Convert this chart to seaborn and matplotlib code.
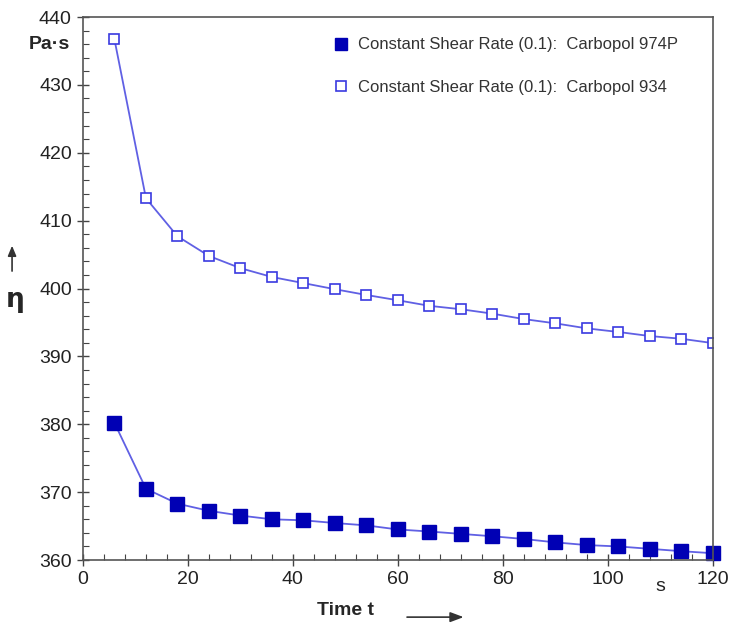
import pandas as pd
import matplotlib
matplotlib.use("Agg")
import matplotlib.pyplot as plt
import seaborn as sns
from matplotlib.lines import Line2D
from matplotlib.ticker import MultipleLocator

# --- data ---
time_s = [6, 12, 18, 24, 30, 36, 42, 48, 54, 60,
          66, 72, 78, 84, 90, 96, 102, 108, 114, 120]
visc_974p = [380.2, 370.5, 368.3, 367.25, 366.55, 366.0, 365.85, 365.45, 365.1, 364.5,
             364.2, 363.85, 363.5, 363.1, 362.6, 362.2, 362.0, 361.65, 361.3, 361.0]
visc_934 = [436.7, 413.3, 407.7, 404.8, 403.0, 401.7, 400.8, 399.9, 399.05, 398.27,
            397.45, 396.95, 396.3, 395.5, 394.87, 394.13, 393.6, 393.0, 392.6, 391.96]
series_names = ["Constant Shear Rate (0.1):  Carbopol 974P",
                "Constant Shear Rate (0.1):  Carbopol 934"]

df = pd.DataFrame({"t": time_s, "eta_974p": visc_974p, "eta_934": visc_934})

sns.set_style("white")
plt.rcParams['font.family'] = ['Liberation Sans', 'DejaVu Sans']

fig = plt.figure(figsize=(7.31, 6.31), dpi=100)
ax = fig.add_axes([0.1135, 0.1125, 0.8615, 0.8605])

line_col = "#6060e4"
dark_blue = "#0000b4"

sns.lineplot(data=df, x="t", y="eta_934", ax=ax, color=line_col, linewidth=1.3,
             marker="s", markersize=6.5, markerfacecolor="white",
             markeredgecolor="#3a3ae0", markeredgewidth=1.2)
sns.lineplot(data=df, x="t", y="eta_974p", ax=ax, color=line_col, linewidth=1.3,
             marker="s", markersize=10.5, markerfacecolor=dark_blue,
             markeredgecolor=dark_blue, markeredgewidth=1.0, clip_on=False)

ax.set_xlim(0, 120)
ax.set_ylim(360, 440)
ax.xaxis.set_major_locator(MultipleLocator(20))
ax.xaxis.set_minor_locator(MultipleLocator(4))
ax.yaxis.set_major_locator(MultipleLocator(10))
ax.yaxis.set_minor_locator(MultipleLocator(2))
ax.set_xlabel("")
ax.set_ylabel("")

ax.tick_params(which="major", direction="inout", length=8, width=1, color="#444444",
               labelsize=14, labelcolor="#222222", pad=4)
ax.tick_params(which="minor", direction="in", length=4, width=0.8, color="#444444")
ax.tick_params(axis="x", which="both", bottom=True, top=False)
ax.tick_params(axis="y", which="both", left=True, right=False)
for sp in ax.spines.values():
    sp.set_color("#555555")
    sp.set_linewidth(1.2)

# legend with marker-only handles
handles = [
    Line2D([], [], linestyle="none", marker="s", markersize=9,
           markerfacecolor=dark_blue, markeredgecolor=dark_blue),
    Line2D([], [], linestyle="none", marker="s", markersize=7,
           markerfacecolor="white", markeredgecolor="#3a3ae0", markeredgewidth=1.2),
]
ax.legend(handles, series_names, loc="upper right", bbox_to_anchor=(0.968, 0.99),
          frameon=False, fontsize=12, handlelength=0.8, handletextpad=0.6,
          labelspacing=1.65, labelcolor="#333333")

# axis annotations
fig.text(0.068, 0.929, "Pa·s", fontsize=14, fontweight="bold", ha="center", va="center")
fig.text(0.021, 0.525, "η", fontsize=19, fontweight="bold", ha="center", va="center",
         family=["DejaVu Sans"])
fig.text(0.472, 0.033, "Time t", fontsize=14, fontweight="bold", ha="center", va="center")
fig.text(0.903, 0.071, "s", fontsize=14, ha="center", va="center", color="#222222")

fig.patches.append(matplotlib.patches.FancyArrowPatch(
    (0.0165, 0.566), (0.0165, 0.615), transform=fig.transFigure,
    arrowstyle="-|>,head_length=6,head_width=2.5", color="#333333", linewidth=1.2))
fig.patches.append(matplotlib.patches.FancyArrowPatch(
    (0.553, 0.022), (0.638, 0.022), transform=fig.transFigure,
    arrowstyle="-|>,head_length=8,head_width=3", color="#333333", linewidth=1.2))

fig.savefig("out.png", dpi=100)
